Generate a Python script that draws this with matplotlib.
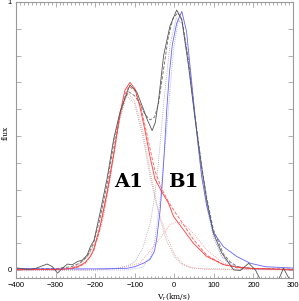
import matplotlib
matplotlib.use('Agg')
import matplotlib.pyplot as plt
from matplotlib.ticker import MultipleLocator, FuncFormatter

# observed total profile (noisy)
v_obs = [-400, -390, -380, -370, -360, -350, -334, -321, -308, -295, -283, -270, -258, -245,
         -232, -220, -212, -203, -188, -170, -153, -137, -120, -112, -95, -78, -68, -56, -48,
         -40, -27, -11, 6, 19, 36, 52, 69, 82, 99, 120, 141, 150, 167, 188, 205, 217, 240,
         264, 276, 291, 300]
f_obs = [0.008, 0.006, 0.004, 0.002, 0.003, 0.006, 0.015, 0.022, 0.012, -0.012, 0.006, 0.022,
         0.019, 0.031, 0.037, 0.056, 0.087, 0.11, 0.21, 0.34, 0.49, 0.59, 0.66, 0.69, 0.665,
         0.60, 0.56, 0.52, 0.55, 0.63, 0.80, 0.91, 0.97, 0.935, 0.76, 0.57, 0.385, 0.26, 0.137,
         0.063, 0.019, 0.0, -0.002, 0.025, 0.0, -0.035, -0.04, -0.035, 0.006, -0.035, -0.035]

# total fit
v_fit = [-400, -300, -260, -240, -220, -204, -188, -170, -153, -137, -125, -115, -100, -87,
         -74, -61, -50, -40, -27, -15, -3, 9, 20, 36, 52, 69, 82, 99, 124, 141, 160, 200, 250, 300]
f_fit = [0.003, 0.005, 0.012, 0.025, 0.05, 0.10, 0.19, 0.32, 0.47, 0.58, 0.64, 0.665, 0.65,
         0.62, 0.58, 0.56, 0.57, 0.62, 0.75, 0.87, 0.94, 0.96, 0.93, 0.78, 0.58, 0.39, 0.27,
         0.15, 0.06, 0.03, 0.012, 0.006, 0.004, 0.003]

# A1 spectrum and fit
v_a1 = [-400, -300, -270, -255, -240, -225, -212, -204, -188, -170, -153, -137, -125, -112,
        -99, -87, -74, -61, -49, -31, -15, -2, 23, 48, 82, 124, 160, 200, 300]
f_a1 = [0.002, 0.002, 0.004, 0.008, 0.015, 0.028, 0.05, 0.075, 0.16, 0.29, 0.435, 0.585,
        0.67, 0.70, 0.675, 0.61, 0.52, 0.42, 0.34, 0.29, 0.25, 0.20, 0.15, 0.10, 0.05, 0.02,
        0.01, 0.005, 0.002]
v_a1fit = [-400, -260, -240, -225, -204, -188, -170, -153, -137, -125, -115, -100, -87, -74,
           -61, -49, -31, -15, 0, 23, 48, 82, 124, 160, 300]
f_a1fit = [0.0, 0.004, 0.012, 0.025, 0.07, 0.15, 0.28, 0.43, 0.575, 0.655, 0.685, 0.67, 0.62,
           0.54, 0.45, 0.37, 0.30, 0.255, 0.22, 0.17, 0.115, 0.055, 0.02, 0.008, 0.0]

# A1 components
v_a1c1 = [-400, -300, -260, -240, -220, -200, -180, -160, -140, -120, -100, -80, -60, -40,
          -20, 0, 20, 40, 80, 300]
f_a1c1 = [0.0, 0.0, 0.006, 0.02, 0.05, 0.09, 0.19, 0.36, 0.56, 0.665, 0.63, 0.52, 0.36, 0.22,
          0.13, 0.06, 0.025, 0.01, 0.002, 0.0]
v_a1c2 = [-400, -200, -150, -120, -86, -53, -30, -10, 6, 25, 48, 82, 124, 160, 200, 300]
f_a1c2 = [0.0, 0.0, 0.005, 0.012, 0.026, 0.087, 0.13, 0.17, 0.18, 0.17, 0.137, 0.075, 0.026,
          0.01, 0.004, 0.0]

# B1 spectrum and fit
v_b1 = [-400, -300, -200, -150, -120, -100, -78, -61, -50, -44, -36, -30, -24, -19, -12, -5,
        6, 19, 31, 44, 57, 69, 82, 99, 124, 158, 192, 230, 300]
f_b1 = [0.005, 0.004, 0.004, 0.005, 0.006, 0.012, 0.025, 0.04, 0.07, 0.12, 0.22, 0.33, 0.47,
        0.60, 0.74, 0.84, 0.92, 0.965, 0.89, 0.70, 0.51, 0.35, 0.24, 0.14, 0.087, 0.05, 0.025,
        0.012, 0.007]
v_b1fit = [-400, -120, -80, -60, -50, -36, -19, -2, 10, 20, 35, 50, 65, 80, 99, 120, 150, 200, 300]
f_b1fit = [0.0, 0.0, 0.01, 0.05, 0.10, 0.26, 0.53, 0.82, 0.93, 0.92, 0.80, 0.60, 0.40, 0.25,
           0.12, 0.05, 0.015, 0.003, 0.0]

# components of the total fit
v_ca = [-400, -300, -260, -240, -220, -200, -180, -160, -140, -120, -100, -80, -60, -36, -20,
        0, 20, 50, 300]
f_ca = [0.0, 0.0, 0.008, 0.02, 0.05, 0.10, 0.20, 0.36, 0.55, 0.65, 0.62, 0.50, 0.34, 0.19,
        0.11, 0.05, 0.02, 0.005, 0.0]
v_cb = [-400, -200, -150, -120, -100, -80, -60, -50, -40, -27, -11, 5, 20, 36, 52, 69, 82, 99,
        120, 140, 170, 300]
f_cb = [0.0, 0.0, 0.005, 0.015, 0.03, 0.08, 0.18, 0.27, 0.40, 0.62, 0.84, 0.94, 0.92, 0.77,
        0.57, 0.37, 0.25, 0.13, 0.05, 0.02, 0.006, 0.0]

labels = ['A1', 'B1']
label_pos = [(-115, 0.33), (22, 0.33)]

fig = plt.figure(figsize=(2.99, 3.01), dpi=100)
ax = fig.add_axes([16 / 299, 1 - 277.7 / 301, 277 / 299, 275.7 / 301])

lw = 0.6
dot = (0, (1, 1.5))
ax.plot(v_ca, f_ca, color='#a0a0a0', lw=lw, linestyle=dot)
ax.plot(v_cb, f_cb, color='#a0a0a0', lw=lw, linestyle=dot)
ax.plot(v_a1c1, f_a1c1, color='#ff8c8c', lw=lw, linestyle=dot)
ax.plot(v_a1c2, f_a1c2, color='#ff8c8c', lw=lw, linestyle=dot)
ax.plot(v_b1fit, f_b1fit, color='#9a9aff', lw=lw, linestyle=dot)
ax.plot(v_fit, f_fit, color='#6a6a6a', lw=lw, linestyle=(0, (4, 2)))
ax.plot(v_a1fit, f_a1fit, color='#ff5a5a', lw=lw, linestyle=(0, (4, 2)))
ax.plot(v_b1, f_b1, color='#6464ff', lw=lw)
ax.plot(v_a1, f_a1, color='#ff3a3a', lw=lw)
ax.plot(v_obs, f_obs, color='#555555', lw=lw)

for lab, (x, y) in zip(labels, label_pos):
    ax.text(x, y, lab, fontsize=14, fontweight='bold', family='DejaVu Serif',
            ha='center', va='center', color='black')

ax.set_xlim(-400, 300)
ax.set_ylim(-0.029, 1.0)

ax.xaxis.set_major_locator(MultipleLocator(100))
ax.xaxis.set_minor_locator(MultipleLocator(10))
ax.yaxis.set_major_locator(MultipleLocator(0.1))
ax.yaxis.set_major_formatter(FuncFormatter(
    lambda val, pos: '0' if abs(val) < 1e-6 else ('1' if abs(val - 1) < 1e-6 else '')))
ax.tick_params(which='both', direction='in', top=True, right=True, color='#909090',
               width=0.5, labelsize=5.5, pad=3)
ax.tick_params(which='major', length=3.5)
ax.tick_params(which='minor', length=1.8)
for lab in ax.get_xticklabels() + ax.get_yticklabels():
    lab.set_family('Liberation Sans')
for sp in ax.spines.values():
    sp.set_color('#999999')
    sp.set_linewidth(0.8)

fig.text(174 / 299, 1 - 296 / 301, r'V$_\mathrm{r}$(km/s)', ha='center', va='center',
         fontsize=5.5, family='DejaVu Serif')
fig.text(6 / 299, 1 - 133 / 301, 'flux', ha='center', va='center', rotation=90,
         fontsize=5.5, family='DejaVu Serif')

fig.savefig('out.png', dpi=100)
